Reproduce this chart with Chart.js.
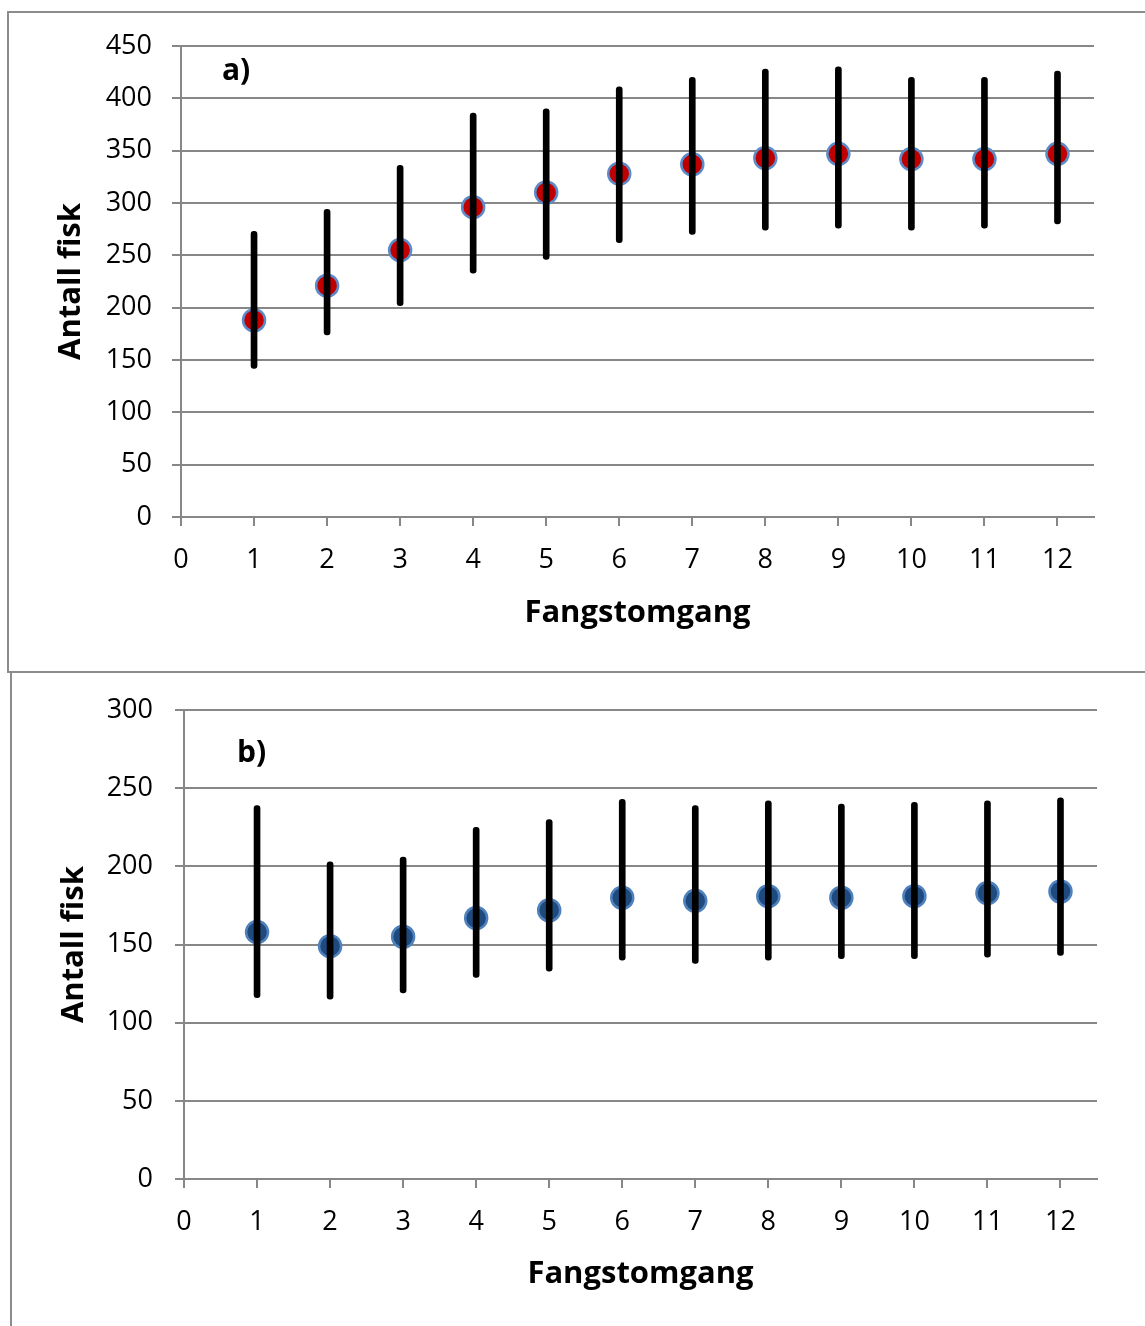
<!DOCTYPE html>
<html lang="no">
<head>
<meta charset="UTF-8">
<title>Antall fisk per fangstomgang</title>
<script src="https://cdn.jsdelivr.net/npm/chart.js"></script>
<style>
  html, body { margin: 0; padding: 0; overflow: hidden; background: #fff; width: 1145px; height: 1326px; }
  .ramme { position: absolute; border: 2px solid #8c8c8c; box-sizing: border-box; }
  #ramme1 { left: 7px; top: 11px; width: 1300px; height: 662px; }
  #ramme2 { left: 10px; top: 671px; width: 1300px; height: 800px; }
  .boks { position: absolute; left: 0; }
  #boksA { top: 0; width: 1145px; height: 672px; }
  #boksB { top: 672px; width: 1145px; height: 654px; }
</style>
</head>
<body>
<div class="ramme" id="ramme1"></div>
<div class="ramme" id="ramme2"></div>
<div class="boks" id="boksA"><canvas id="grafA"></canvas></div>
<div class="boks" id="boksB"><canvas id="grafB"></canvas></div>

<script>
// fangstomganger
const omgang = [1, 2, 3, 4, 5, 6, 7, 8, 9, 10, 11, 12];
const xTikker = [0, 1, 2, 3, 4, 5, 6, 7, 8, 9, 10, 11, 12];

// a) estimat med nedre og øvre grense
const snittA = [188, 221, 255, 296, 310, 328, 337, 343, 347, 342, 342, 347];
const nedreA = [142, 174, 202, 233, 246, 262, 270, 274, 276, 274, 276, 280];
const ovreA  = [273, 294, 336, 386, 390, 411, 420, 428, 430, 420, 420, 426];

// b)
const snittB = [158, 149, 155, 167, 172, 180, 178, 181, 180, 181, 183, 184];
const nedreB = [116, 115, 119, 129, 133, 140, 138, 140, 141, 141, 142, 143];
const ovreB  = [239, 203, 206, 225, 230, 243, 239, 242, 240, 241, 242, 244];

const gra = '#878787';
const skrift = "'Open Sans', sans-serif";

// skriver "a)" / "b)" oppe til venstre i plottet
const merkePlugin = {
  id: 'merke',
  afterDraw(chart, args, opts) {
    const c = chart.ctx;
    c.save();
    c.font = 'bold 30px ' + skrift;
    c.fillStyle = '#000';
    c.textBaseline = 'alphabetic';
    c.fillText(opts.tekst, opts.x, opts.y);
    c.restore();
  }
};

function lagGraf(id, snitt, nedre, ovre, oppsett) {
  const punkter = omgang.map((x, i) => ({ x: x, y: snitt[i] }));
  const feil = omgang.map((x, i) => ({ x: x, y: [nedre[i], ovre[i]] }));

  return new Chart(document.getElementById(id), {
    type: 'scatter',
    data: {
      datasets: [
        {
          type: 'bar',
          data: feil,
          backgroundColor: '#000',
          barThickness: 6,
          borderRadius: 3,
          borderSkipped: false,
          order: 0
        },
        {
          type: 'scatter',
          data: punkter,
          pointRadius: 11,
          pointBorderWidth: 2.5,
          pointBackgroundColor: oppsett.fyll,
          pointBorderColor: oppsett.kant,
          order: 1
        }
      ]
    },
    options: {
      responsive: true,
      maintainAspectRatio: false,
      animation: false,
      events: [],
      layout: { padding: { top: oppsett.topp, right: oppsett.hoyre, left: 0, bottom: 0 } },
      plugins: {
        legend: { display: false },
        tooltip: { enabled: false },
        merke: { tekst: oppsett.merke, x: oppsett.merkeX, y: oppsett.merkeY }
      },
      scales: {
        x: {
          type: 'linear',
          min: 0,
          max: 12.5,
          offset: false,
          ticks: { autoSkip: false, color: '#000', padding: oppsett.xTickPad, font: { family: skrift, size: 27 } },
          grid: { offset: false, drawOnChartArea: false, drawTicks: true, tickLength: 9, color: gra, lineWidth: 2 },
          border: { display: true, color: gra, width: 2 },
          title: { display: true, text: 'Fangstomgang', color: '#000', font: { family: skrift, size: 31, weight: 'bold' }, padding: { top: 0, bottom: oppsett.xTittelPad } },
          afterBuildTicks: s => { s.ticks = xTikker.map(v => ({ value: v })); },
          afterFit: s => { s.height = oppsett.xHoyde; }
        },
        y: {
          min: 0,
          max: oppsett.ymax,
          ticks: { stepSize: 50, color: '#000', padding: oppsett.yTickPad, font: { family: skrift, size: 27 } },
          grid: { color: gra, lineWidth: 2, tickLength: 9 },
          border: { display: true, color: gra, width: 2 },
          title: { display: true, text: 'Antall fisk', color: '#000', font: { family: skrift, size: 31, weight: 'bold' }, padding: { top: oppsett.yTittelPad, bottom: 0 } },
          afterFit: s => { s.width = oppsett.yBredde; }
        }
      }
    },
    plugins: [merkePlugin]
  });
}

lagGraf('grafA', snittA, nedreA, ovreA, {
  fyll: '#c00000', kant: '#5b8bc9', ymax: 450,
  topp: 46, hoyre: 51, xHoyde: 155, xTickPad: 18, xTittelPad: 40, yBredde: 181, yTickPad: 20, yTittelPad: 53,
  merke: 'a)', merkeX: 222, merkeY: 80
});

lagGraf('grafB', snittB, nedreB, ovreB, {
  fyll: '#1f4a7e', kant: '#4f81bd', ymax: 300,
  topp: 36, hoyre: 48, xHoyde: 147, xTickPad: 18, xTittelPad: 33, yBredde: 184, yTickPad: 22, yTittelPad: 56,
  merke: 'b)', merkeX: 237, merkeY: 90
});
</script>
</body>
</html>
